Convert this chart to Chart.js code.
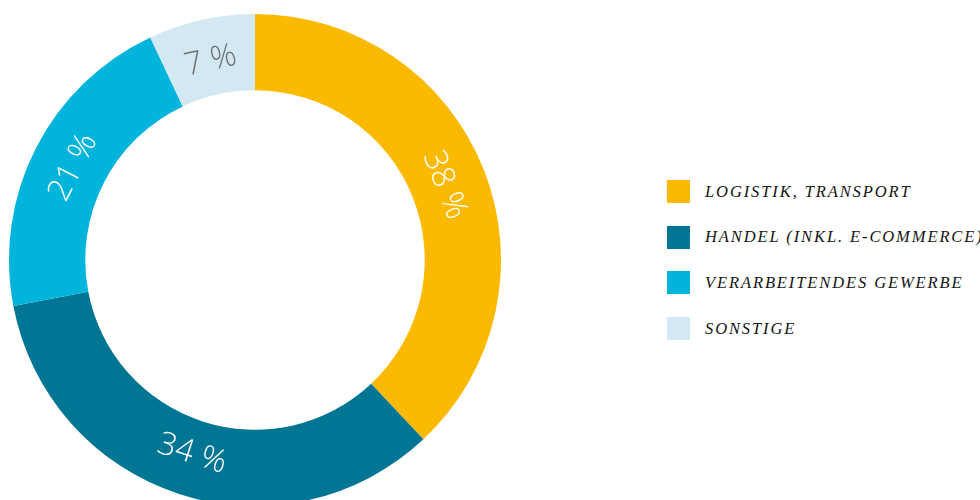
<!DOCTYPE html>
<html>
<head>
<meta charset="utf-8">
<script src="https://cdn.jsdelivr.net/npm/chart.js@4"></script>
<style>
  html, body { margin: 0; padding: 0; background: #fff; overflow: hidden; }
  body { width: 980px; height: 500px; position: relative; }
  #ring { position: absolute; left: 9px; top: 14px; width: 492px; height: 492px; }
  #legend { position: absolute; left: 667px; top: 180px; margin: 0; padding: 0; list-style: none; }
  #legend li { height: 23px; margin-bottom: 22.7px; display: flex; align-items: center; }
  #legend .swatch { width: 23px; height: 23px; flex: none; }
  #legend .name {
    margin-left: 15px; font-family: "Liberation Serif", serif; font-style: italic;
    font-size: 16.5px; letter-spacing: 1.9px; color: #141414; white-space: nowrap;
  }
</style>
</head>
<body>
<div id="ring"><canvas id="c"></canvas></div>
<ul id="legend"></ul>
<script>
// Branchenanteile
const categories = ['LOGISTIK, TRANSPORT', 'HANDEL (INKL. E-COMMERCE)', 'VERARBEITENDES GEWERBE', 'SONSTIGE'];
const shares = [38, 34, 21, 7];
const shareLabels = ['38 %', '34 %', '21 %', '7 %'];
const colors = ['#FBB900', '#007694', '#00B4DC', '#D2E9F4'];
const labelColors = ['#ffffff', '#ffffff', '#ffffff', '#707070'];

// Prozentwerte entlang des Rings, tangential gedreht
const arcLabels = {
  id: 'arcLabels',
  afterDatasetsDraw(chart) {
    const ctx = chart.ctx;
    const meta = chart.getDatasetMeta(0);
    meta.data.forEach((arc, i) => {
      const p = arc.getProps(['x', 'y', 'startAngle', 'endAngle', 'innerRadius', 'outerRadius'], true);
      const mid = (p.startAngle + p.endAngle) / 2;
      const r = (p.innerRadius + p.outerRadius) / 2 - 4;
      const x = p.x + Math.cos(mid) * r;
      const y = p.y + Math.sin(mid) * r;
      // Winkel ab 12 Uhr im Uhrzeigersinn
      let rot = mid + Math.PI / 2;
      while (rot > Math.PI) rot -= 2 * Math.PI;
      if (rot > Math.PI / 2) rot -= Math.PI;
      if (rot < -Math.PI / 2) rot += Math.PI;
      ctx.save();
      ctx.translate(x, y);
      ctx.rotate(rot);
      ctx.font = '300 32px "Open Sans", sans-serif';
      ctx.fillStyle = labelColors[i];
      ctx.textAlign = 'center';
      ctx.textBaseline = 'middle';
      ctx.fillText(shareLabels[i], 0, 0);
      ctx.restore();
    });
  }
};

new Chart(document.getElementById('c'), {
  type: 'doughnut',
  data: {
    labels: categories,
    datasets: [{ data: shares, backgroundColor: colors, borderWidth: 0, hoverOffset: 0 }]
  },
  options: {
    responsive: true,
    maintainAspectRatio: false,
    animation: false,
    cutout: '69%',
    layout: { padding: 0 },
    plugins: { legend: { display: false }, tooltip: { enabled: false } },
    events: []
  },
  plugins: [arcLabels]
});

const legend = document.getElementById('legend');
categories.forEach((name, i) => {
  const li = document.createElement('li');
  const sw = document.createElement('span');
  sw.className = 'swatch';
  sw.style.background = colors[i];
  const tx = document.createElement('span');
  tx.className = 'name';
  tx.textContent = name;
  li.appendChild(sw);
  li.appendChild(tx);
  legend.appendChild(li);
});
</script>
</body>
</html>
